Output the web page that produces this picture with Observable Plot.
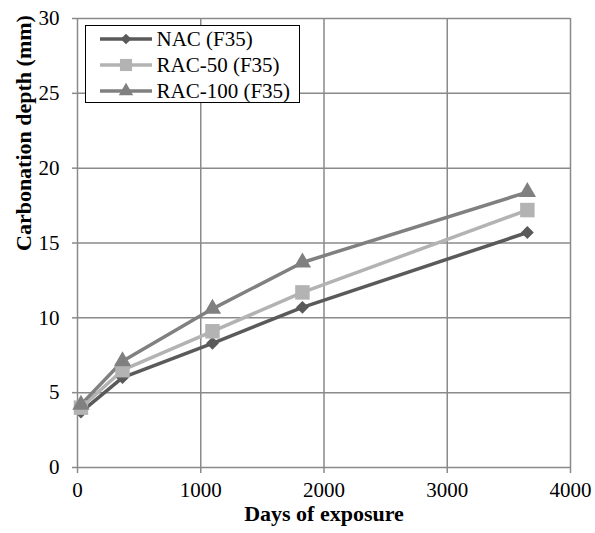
<!DOCTYPE html>
<html>
<head>
<meta charset="utf-8">
<script src="https://cdn.jsdelivr.net/npm/d3@7"></script>
<script src="https://cdn.jsdelivr.net/npm/@observablehq/plot@0.6"></script>
<style>
  body { margin: 0; background: #fff; }
  #wrap { position: relative; width: 595px; height: 533px; font-family: "Liberation Serif", "Times New Roman", serif; }
  #wrap svg text { font-family: "Liberation Serif", "Times New Roman", serif !important; }
  #legend { position: absolute; left: 85px; top: 25px; width: 215px; height: 78px; border: 1.5px solid #000; background: #fff; box-sizing: border-box; }
  .item { position: absolute; left: 0; height: 24px; display: flex; align-items: center; font-size: 21px; color: #000; white-space: nowrap; }
  .item svg { margin-left: 13.5px; margin-right: 5px; }
</style>
</head>
<body>
<div id="wrap"></div>
<script>
const days = [28, 365, 1095, 1825, 3650];
const seriesNames = ["NAC (F35)", "RAC-50 (F35)", "RAC-100 (F35)"];
const nac = [3.7, 6.0, 8.3, 10.7, 15.7];
const rac50 = [4.0, 6.5, 9.1, 11.7, 17.2];
const rac100 = [4.2, 7.1, 10.6, 13.7, 18.4];
const xTicks = [0, 1000, 2000, 3000, 4000];
const yTicks = [0, 5, 10, 15, 20, 25, 30];
const colors = ["#5a5a5a", "#b3b3b3", "#808080"];
const symbols = ["diamond2", "square", "triangle"];
const symbolSizes = [105, 210, 130];

const allValues = [nac, rac50, rac100];
const data = [];
seriesNames.forEach((name, i) => {
  days.forEach((d, j) => data.push({series: name, days: d, depth: allValues[i][j]}));
});

const chart = Plot.plot({
  width: 595,
  height: 533,
  marginLeft: 77,
  marginRight: 25,
  marginTop: 18,
  marginBottom: 66,
  style: {fontFamily: "Liberation Serif, serif", fontSize: "21px", color: "#000", background: "#fff"},
  x: {domain: [0, 4000], ticks: xTicks, label: null},
  y: {domain: [0, 30], ticks: yTicks, label: null},
  marks: [
    Plot.ruleX(xTicks, {stroke: "#8a8a8a", strokeWidth: 1.5, strokeOpacity: 1}),
    Plot.ruleY(yTicks, {stroke: "#8a8a8a", strokeWidth: 1.5, strokeOpacity: 1}),
    Plot.axisX({ticks: xTicks, tickFormat: d3.format("d"), tickSize: 6, tickPadding: 9, stroke: "#8a8a8a", strokeWidth: 1.5, fontSize: 21, label: null}),
    Plot.axisY({ticks: yTicks, tickFormat: d3.format("d"), tickSize: 5, tickPadding: 13, stroke: "#8a8a8a", strokeWidth: 1.5, fontSize: 21, label: null}),
    ...seriesNames.map((name, i) =>
      Plot.line(data.filter(d => d.series === name), {x: "days", y: "depth", stroke: colors[i], strokeWidth: 3.5})
    ),
    ...seriesNames.map((name, i) =>
      Plot.dot(data.filter(d => d.series === name), {x: "days", y: "depth", symbol: () => symbols[i], fill: colors[i], stroke: "none", r: Math.sqrt(symbolSizes[i] / Math.PI)})
    ),
    Plot.text(["Days of exposure"], {frameAnchor: "bottom", dy: 53, fontWeight: "bold", fontSize: 22}),
    Plot.text(["Carbonation depth (mm)"], {frameAnchor: "left", dx: -54, dy: 8, rotate: -90, fontWeight: "bold", fontSize: 22})
  ]
});
chart.style.overflow = "visible";
document.getElementById("wrap").appendChild(chart);

// legend overlay
const legend = document.createElement("div");
legend.id = "legend";
seriesNames.forEach((name, i) => {
  const item = document.createElement("div");
  item.className = "item";
  item.style.top = (1 + i * 26) + "px";
  const s = d3.create("svg").attr("width", 52).attr("height", 20);
  s.append("line").attr("x1", 0).attr("x2", 52).attr("y1", 10).attr("y2", 10).attr("stroke", colors[i]).attr("stroke-width", 3.5);
  const sym = {diamond2: d3.symbolDiamond2, square: d3.symbolSquare, triangle: d3.symbolTriangle}[symbols[i]];
  s.append("path").attr("transform", "translate(26,10)").attr("d", d3.symbol(sym, symbolSizes[i] * 0.7)()).attr("fill", colors[i]);
  item.appendChild(s.node());
  const t = document.createElement("span");
  t.textContent = name;
  item.appendChild(t);
  legend.appendChild(item);
});
document.getElementById("wrap").appendChild(legend);
</script>
</body>
</html>
